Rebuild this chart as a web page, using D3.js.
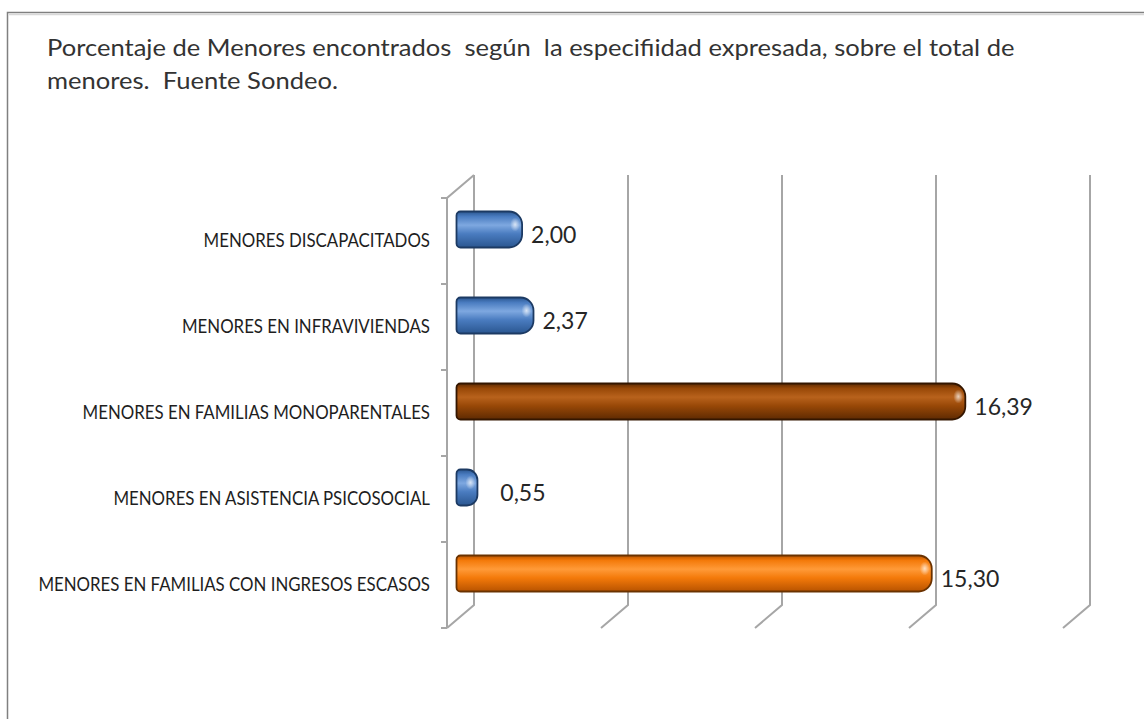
<!DOCTYPE html>
<html>
<head>
<meta charset="utf-8">
<script src="https://cdn.jsdelivr.net/npm/d3@7"></script>
<style>
  body { margin: 0; background: #fff; }
  text { fill: #262626; white-space: pre; }
</style>
</head>
<body>
<div class="chart"></div>
<script>
// data
var categories = [
  "MENORES DISCAPACITADOS",
  "MENORES EN INFRAVIVIENDAS",
  "MENORES EN FAMILIAS MONOPARENTALES",
  "MENORES EN ASISTENCIA PSICOSOCIAL",
  "MENORES EN FAMILIAS CON INGRESOS ESCASOS"
];
var values = [2.00, 2.37, 16.39, 0.55, 15.30];
var barKinds = ["blue", "blue", "brown", "blue", "orange"];
var gridValues = [0, 5, 10, 15, 20];
var titleLines = [
  "Porcentaje de Menores encontrados  según  la especifiidad expresada, sobre el total de",
  "menores.  Fuente Sondeo."
];

var svgWidth = 1144;
var svgHeight = 719;

// colours for the 3D bars
var palette = {
  blue:   { light: "#7ea8e0", base: "#4a7cc0", dark: "#2a5690", line: "#1c3a63" },
  brown:  { light: "#b8621c", base: "#984807", dark: "#5e2a02", line: "#341600" },
  orange: { light: "#ff9a38", base: "#f47a0a", dark: "#b85300", line: "#6a3200" }
};

// depth of the 3D box: front plane is shifted by (dx, dy) from the back wall
var depth = { dx: -27, dy: 23 };
var barShift = { dx: -13.5, dy: 11.5 };
var barHeight = 36;

var svg = d3.select(".chart")
  .append("svg")
  .attr("width", svgWidth)
  .attr("height", svgHeight);

var defs = svg.append("defs");
Object.keys(palette).forEach(function(k) {
  var p = palette[k];
  var g = defs.append("linearGradient")
    .attr("id", "grad-" + k)
    .attr("x1", 0).attr("y1", 0).attr("x2", 0).attr("y2", 1);
  g.append("stop").attr("offset", "0%").attr("stop-color", p.dark);
  g.append("stop").attr("offset", "14%").attr("stop-color", p.base);
  g.append("stop").attr("offset", "38%").attr("stop-color", p.light);
  g.append("stop").attr("offset", "62%").attr("stop-color", p.base);
  g.append("stop").attr("offset", "100%").attr("stop-color", p.dark);
});
var hl = defs.append("radialGradient").attr("id", "spot");
hl.append("stop").attr("offset", "0%").attr("stop-color", "#fff").attr("stop-opacity", 0.7);
hl.append("stop").attr("offset", "100%").attr("stop-color", "#fff").attr("stop-opacity", 0);

// outer border (only top and left edges are inside the picture)
svg.append("path")
  .attr("d", "M7.5,719 L7.5,12.5 L1144,12.5")
  .attr("fill", "none")
  .attr("stroke", "#808080")
  .attr("stroke-width", 1.5);
svg.append("path")
  .attr("d", "M9,14.5 L1144,14.5")
  .attr("stroke", "#d8d8d8")
  .attr("stroke-width", 1.5);

// title
var titleG = svg.append("g");
var title = titleG.append("text")
  .attr("font-family", "Lato, 'Open Sans', sans-serif")
  .attr("font-size", 24)
  .style("fill", "#333");
title.selectAll("tspan")
  .data(titleLines)
  .enter()
  .append("tspan")
  .attr("x", 0)
  .attr("y", (d, i) => i * 33)
  .text(d => d);
var firstLen = title.select("tspan").node().getComputedTextLength();
titleG.attr("transform", `translate(47, 56) scale(${968 / firstLen}, 1)`);

// scales on the back wall
var xScale = d3.scaleLinear()
  .domain([0, 20])
  .range([474, 1090]);

var yScale = d3.scaleBand()
  .domain(categories)
  .range([175, 605]);

var yTop = yScale.range()[0];
var yBottom = yScale.range()[1];

// gridlines on the back wall plus their slant across the floor
var grid = svg.append("g")
  .attr("fill", "none")
  .attr("stroke", "#a6a6a6")
  .attr("stroke-width", 2);

grid.selectAll("path.grid")
  .data(gridValues)
  .enter()
  .append("path")
  .attr("class", "grid")
  .attr("d", d => `M${xScale(d)},${yTop} L${xScale(d)},${yBottom} L${xScale(d) + depth.dx},${yBottom + depth.dy}`);

// front category axis with ticks and the top slant
var frontX = xScale(0) + depth.dx;
var frontTop = yTop + depth.dy;
var frontBottom = yBottom + depth.dy;
var yFront = d3.scaleBand()
  .domain(categories)
  .range([frontTop, frontBottom]);

grid.append("path")
  .attr("d", `M${frontX},${frontBottom} L${frontX},${frontTop} L${xScale(0)},${yTop}`);

var tickYs = categories.map(c => yFront(c)).concat([frontBottom]);
grid.selectAll("path.tick")
  .data(tickYs)
  .enter()
  .append("path")
  .attr("class", "tick")
  .attr("d", d => `M${frontX - 6},${d} L${frontX},${d}`);

// category labels, condensed to the width seen in the picture
var labelG = svg.append("g");
var labels = labelG.selectAll("text")
  .data(categories)
  .enter()
  .append("text")
  .attr("x", 0)
  .attr("y", d => yFront(d) + yFront.bandwidth() / 2 - 1)
  .attr("dy", "0.36em")
  .attr("text-anchor", "end")
  .attr("font-family", "Lato, 'Open Sans', sans-serif")
  .attr("font-size", 20)
  .style("fill", "#1e1e1e")
  .text(d => d);
var maxLen = d3.max(labels.nodes(), n => n.getComputedTextLength());
labelG.attr("transform", `translate(430, 0) scale(${392 / maxLen}, 1)`);

// bars as rounded cylinders
function barPath(x0, x1, yc, h) {
  var w = x1 - x0;
  var rr = Math.min(13, w / 2);
  var rl = Math.min(4, w / 2);
  var t = yc - h / 2, b = yc + h / 2;
  return `M${x0 + rl},${t} L${x1 - rr},${t} A${rr},${rr} 0 0 1 ${x1},${t + rr}` +
    ` L${x1},${b - rr} A${rr},${rr} 0 0 1 ${x1 - rr},${b}` +
    ` L${x0 + rl},${b} A${rl},${rl} 0 0 1 ${x0},${b - rl}` +
    ` L${x0},${t + rl} A${rl},${rl} 0 0 1 ${x0 + rl},${t} Z`;
}

var barData = categories.map((c, i) => ({ cat: c, value: values[i], kind: barKinds[i] }));

var bars = svg.append("g");
bars.selectAll("path.bar")
  .data(barData)
  .enter()
  .append("path")
  .attr("class", "bar")
  .attr("d", d => barPath(
    xScale(0) + barShift.dx - 4,
    xScale(d.value) + barShift.dx,
    yScale(d.cat) + yScale.bandwidth() / 2 + barShift.dy,
    barHeight))
  .attr("fill", d => `url(#grad-${d.kind})`)
  .attr("stroke", d => palette[d.kind].line)
  .attr("stroke-width", 1.8);

bars.selectAll("ellipse.spot")
  .data(barData)
  .enter()
  .append("ellipse")
  .attr("class", "spot")
  .attr("cx", d => xScale(d.value) + barShift.dx - Math.min(7, (xScale(d.value) - xScale(0)) / 2))
  .attr("cy", d => yScale(d.cat) + yScale.bandwidth() / 2 + barShift.dy - 5)
  .attr("rx", 5)
  .attr("ry", 7)
  .attr("fill", "url(#spot)");

// value labels with a decimal comma
var esLocale = d3.formatLocale({ decimal: ",", thousands: ".", grouping: [3], currency: ["", " €"] });
var fmt = esLocale.format(".2f");

svg.append("g")
  .selectAll("text")
  .data(barData)
  .enter()
  .append("text")
  .attr("x", d => Math.max(xScale(d.value), xScale(1)) + barShift.dx + 9)
  .attr("y", d => yScale(d.cat) + yScale.bandwidth() / 2 + barShift.dy + 5)
  .attr("dy", "0.36em")
  .attr("font-family", "Lato, 'Open Sans', sans-serif")
  .attr("font-size", 23)
  .style("fill", "#262626")
  .text(d => fmt(d.value));
</script>
</body>
</html>
